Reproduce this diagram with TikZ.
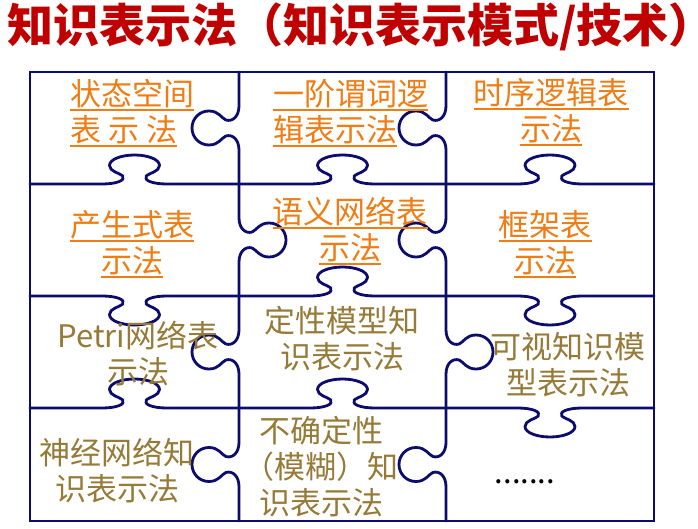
\documentclass[tikz,border=0pt]{standalone}
\usepackage{fontspec}
\setmainfont{Noto Sans CJK SC}

\definecolor{navy}{RGB}{12,12,110}
\definecolor{titlered}{RGB}{192,0,0}
\definecolor{linkorange}{RGB}{240,125,20}
\definecolor{olivetext}{RGB}{150,122,55}

\tikzset{
  puzzle/.style={draw=navy, line width=2.8pt, line cap=round, line join=round},
  celltext/.style={inner sep=0pt, font=\fontsize{31}{36}\selectfont, align=center},
  linktext/.style={celltext, text=linkorange},
  plaintext/.style={celltext, text=olivetext},
}

% underlined text line, like a hyperlink
\newcommand\ulline[1]{\setbox0\hbox{#1}\rlap{\rule[-5.5pt]{\wd0}{1.8pt}}\box0}

% one jigsaw edge drawn in local units: along axis = x, bulge axis = y
\newcommand\tabpath[1]{%
  \draw[puzzle] ({-(#1)},0) -- (-1.3,0)
    .. controls (-0.7,0) and (-0.35,0.13) .. (-0.47,0.28)
    .. controls (-0.6,0.38) and (-1,0.43) .. (-1,0.64)
    .. controls (-1,0.85) and (-0.53,1) .. (0,1)
    .. controls (0.53,1) and (1,0.85) .. (1,0.64)
    .. controls (1,0.43) and (0.6,0.38) .. (0.47,0.28)
    .. controls (0.35,0.13) and (0.7,0) .. (1.3,0) -- ({#1},0);}

% vertical edge: x, y top, y bottom, direction (+1 right, -1 left)
\newcommand\vtab[4]{%
  \begin{scope}[shift={(#1,{(#2+#3)/2})}, x={(0pt,-17pt)}, y={({(#4)*47pt},0pt)}]
    \tabpath{(#3-#2)/34}
  \end{scope}}

% horizontal edge: y, x left, x right, direction (+1 down, -1 up)
\newcommand\htab[4]{%
  \begin{scope}[shift={({(#2+#3)/2},#1)}, x={(25pt,0pt)}, y={(0pt,{-1*(#4)*29pt})}]
    \tabpath{(#3-#2)/50}
  \end{scope}}

\begin{document}
\begin{tikzpicture}[x=1pt,y=-1pt]
\path[use as bounding box, fill=white] (0,0) rectangle (698,529);

% heading (closing parenthesis kept out of the box width)
\node[inner sep=0pt, anchor=west, font=\fontsize{46}{50}\selectfont\bfseries, text=titlered]
  (title) at (7,27) {知识表示法（知识表示模式/技术\rlap{）}};

% outer frame
\draw[puzzle, line join=miter] (30,72) rectangle (654,521);

% inner vertical edges
\vtab{239}{72}{184}{-1}
\vtab{239}{184}{296}{1}
\vtab{239}{296}{408}{-1}
\vtab{239}{408}{521}{-1}
\vtab{446}{72}{184}{-1}
\vtab{446}{184}{296}{-1}
\vtab{446}{296}{408}{1}
\vtab{446}{408}{521}{-1}

% inner horizontal edges
\htab{184}{30}{239}{-1}
\htab{184}{239}{446}{-1}
\htab{184}{446}{654}{-1}
\htab{296}{30}{239}{1}
\htab{296}{239}{446}{-1}
\htab{296}{446}{654}{1}
\htab{408}{30}{239}{-1}
\htab{408}{239}{446}{-1}
\htab{408}{446}{654}{1}

% piece labels
\node[linktext, align=left, anchor=west] (state) at (70,113)
  {\ulline{状态空间}\\\ulline{表 示 法}};
\node[linktext, align=left, anchor=west] (logic) at (273,113)
  {\ulline{一阶谓词逻}\\\ulline{辑表示法}};
\node[linktext] (temporal) at (551,112)
  {\ulline{时序逻辑表}\\\ulline{示法}};
\node[linktext] (rule) at (132,244)
  {\ulline{产生式表}\\\ulline{示法}};
\node[linktext] (semnet) at (350,231)
  {\ulline{语义网络表}\\\ulline{示法}};
\node[linktext] (frame) at (545,244)
  {\ulline{框架表}\\\ulline{示法}};
\node[plaintext] (petri) at (138,354) {Petri网络表\\示法};
\node[plaintext] (qual) at (342,339) {定性模型知\\识表示法};
\node[plaintext] (visual) at (568,365) {可视知识模\\型表示法};
\node[plaintext] (neural) at (117,470) {神经网络知\\识表示法};
\node[plaintext] (fuzzy) at (321,467) {不确定性\\（模糊）知\\识表示法};
\node[celltext, anchor=base] (more) at (525,483) {.......};
\end{tikzpicture}
\end{document}
